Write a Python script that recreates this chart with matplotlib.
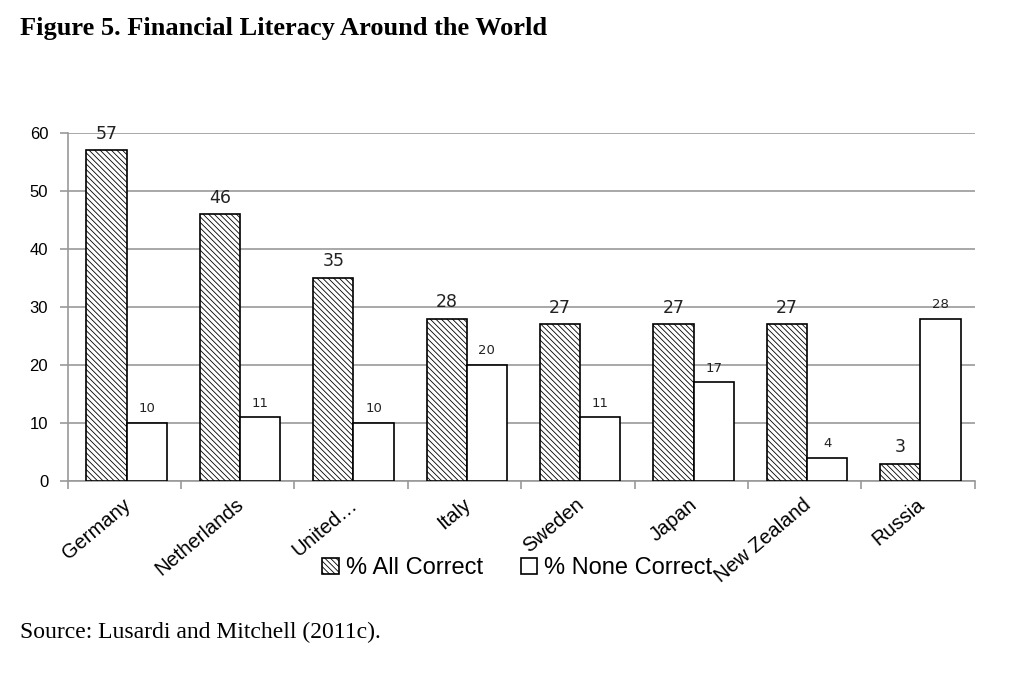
import matplotlib
matplotlib.use("Agg")
import matplotlib.pyplot as plt
import numpy as np

countries = ["Germany", "Netherlands", "United…", "Italy", "Sweden", "Japan", "New Zealand", "Russia"]
all_correct = [57, 46, 35, 28, 27, 27, 27, 3]
none_correct = [10, 11, 10, 20, 11, 17, 4, 28]
yticks = [0, 10, 20, 30, 40, 50, 60]

plt.rcParams['font.family'] = ['Liberation Sans', 'DejaVu Sans']
plt.rcParams['hatch.linewidth'] = 0.6

fig = plt.figure(figsize=(10.24, 6.74), dpi=100)
ax = fig.add_axes([0.066, 0.2864, 0.886, 0.5163])

x = np.arange(len(countries))
w = 0.355
off = 0.02
b1 = ax.bar(x - w/2 + off, all_correct, w, facecolor='white', edgecolor='black', hatch='\\\\\\\\\\\\',
            linewidth=1.2, label='% All Correct', zorder=3)
b2 = ax.bar(x + w/2 + off, none_correct, w, facecolor='white', edgecolor='black',
            linewidth=1.2, label='% None Correct', zorder=3)

for xi, v in zip(x, all_correct):
    ax.text(xi - w/2 + off, v + 1.3, str(v), ha='center', va='bottom', fontsize=12.5,
            family=['DejaVu Sans'], color='#222222', zorder=4)
for xi, v in zip(x, none_correct):
    ax.text(xi + w/2 + off, v + 1.3, str(v), ha='center', va='bottom', fontsize=9.5,
            family=['DejaVu Sans'], color='#222222', zorder=4)

ax.set_xlim(-0.5, len(countries) - 0.5)
ax.set_ylim(0, 60)
ax.set_yticks(yticks)
ax.set_yticklabels([str(t) for t in yticks], fontsize=12)
ax.yaxis.grid(True, color='#999999', linewidth=1.2, zorder=0)
ax.set_axisbelow(True)

ax.set_xticks(x - 0.02)
ax.set_xticklabels(countries, rotation=40, ha='right', rotation_mode='anchor', fontsize=14.5)
ax.tick_params(axis='x', length=0, pad=10)
ax.set_xticks(np.arange(-0.5, len(countries)), minor=True)
ax.tick_params(axis='x', which='minor', length=6, color='#999999', width=1.2)
ax.tick_params(axis='y', length=6, color='#999999', width=1.2, pad=8)

for s in ['top', 'right']:
    ax.spines[s].set_visible(False)
ax.spines['left'].set_color('#999999')
ax.spines['bottom'].set_color('#999999')
ax.spines['left'].set_linewidth(1.2)
ax.spines['bottom'].set_linewidth(1.2)

leg = fig.legend(handles=[b1, b2], loc='center', bbox_to_anchor=(0.505, 0.157), ncol=2,
                 frameon=False, fontsize=17, handlelength=0.7, handleheight=0.7,
                 handletextpad=0.3, columnspacing=1.6)

fig.text(0.0195, 0.958, "Figure 5. Financial Literacy Around the World", fontsize=19,
         fontweight='bold', family=['Liberation Serif'], ha='left', va='center')
fig.text(0.0195, 0.062, "Source: Lusardi and Mitchell (2011c).", fontsize=17,
         family=['Liberation Serif'], ha='left', va='center')

fig.savefig("out.png", dpi=100)
